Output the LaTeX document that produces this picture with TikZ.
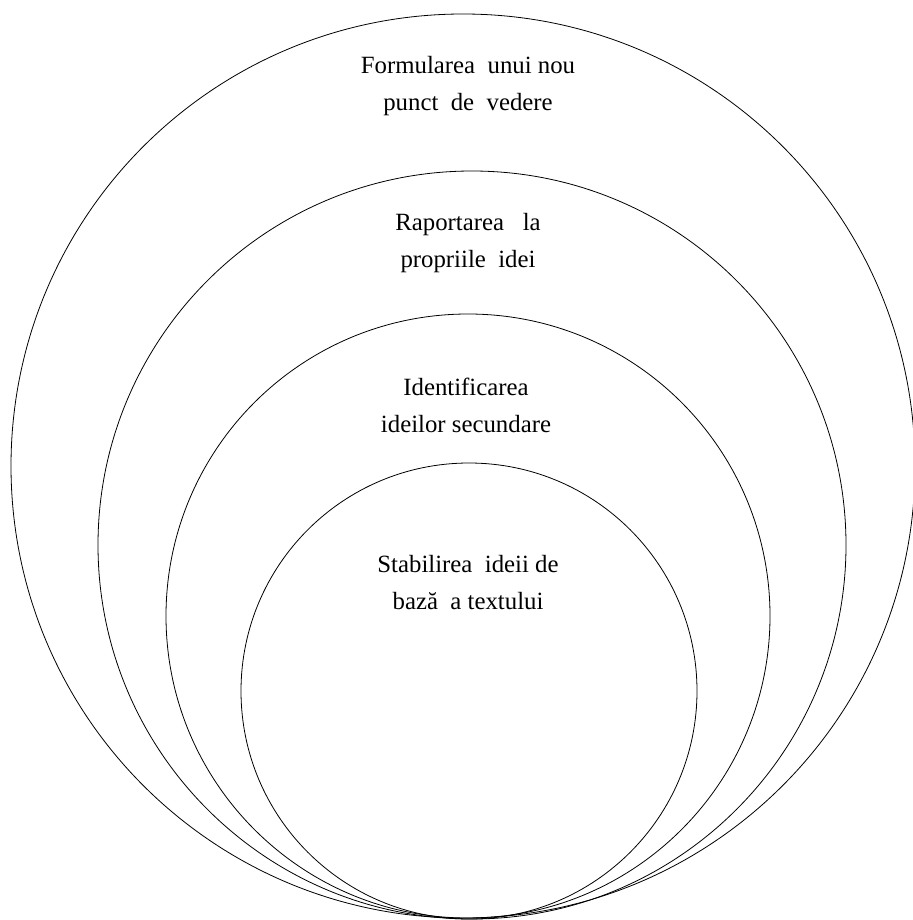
\documentclass[tikz,border=0pt]{standalone}
\usepackage{fontspec}
\setmainfont{Liberation Serif}
\usepackage{tikz}

\begin{document}
\begin{tikzpicture}[x=1pt,y=-1pt,
  ring/.style={circle,draw,line width=0.8pt,inner sep=0pt},
  stage/.style={align=center,inner sep=0pt,font=\fontsize{24.8}{37}\selectfont}]

  \useasboundingbox (0,0) rectangle (912,920);

  \node[ring,minimum size=904pt] (outer) at (463,466) {};
  \node[ring,minimum size=748pt] (second) at (472,545) {};
  \node[ring,minimum size=604pt] (third) at (468,616) {};
  \node[ring,minimum size=456pt] (inner) at (469,691) {};

  \node[stage] (nou) at (468,86) {Formularea\ \ unui nou\\punct\ \ de\ \ vedere};
  \node[stage] (idei) at (468,243) {Raportarea\ \ \ la\\propriile\ \ idei};
  \node[stage] (sec) at (466,405) {Identificarea\\ideilor secundare};
  \node[stage] (baza) at (468,583) {Stabilirea\ \ ideii de\\baz\u{a}\ \ a textului};
\end{tikzpicture}
\end{document}
